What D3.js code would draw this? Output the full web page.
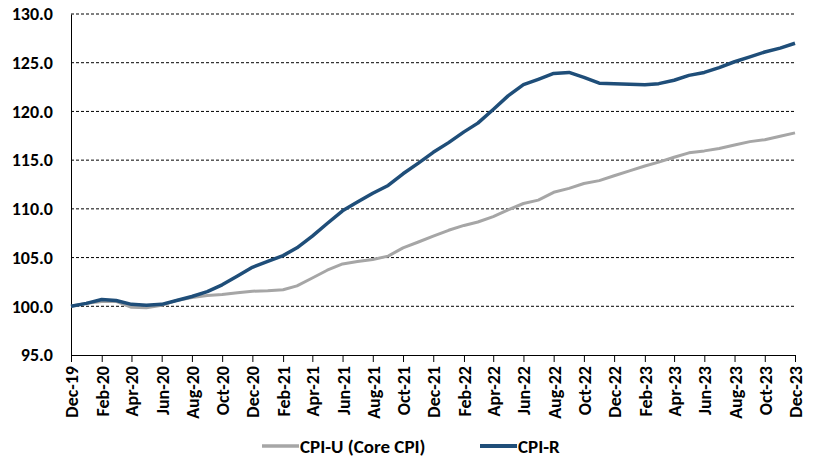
<!DOCTYPE html>
<html>
<head>
<meta charset="utf-8">
<script src="https://cdn.jsdelivr.net/npm/d3@7"></script>
<style>
  body { margin: 0; background: #fff; }
  svg text { font-family: Carlito, "Open Sans", sans-serif; font-weight: 700; fill: #000; }
</style>
</head>
<body>
<div id="chart"></div>
<script>
// monthly index, Dec-19 = 100
const months = d3.range(49).map(i => new Date(2019, 11 + i, 1));
const cpiU = [100.0, 100.3, 100.5, 100.5, 99.9, 99.85, 100.1, 100.6, 100.9, 101.1, 101.2, 101.4, 101.55,
  101.6, 101.7, 102.1, 102.9, 103.7, 104.35, 104.6, 104.8, 105.15, 106.0, 106.6, 107.2,
  107.8, 108.3, 108.65, 109.2, 109.9, 110.55, 110.9, 111.7, 112.1, 112.6, 112.9, 113.4,
  113.9, 114.4, 114.8, 115.3, 115.75, 115.95, 116.2, 116.55, 116.9, 117.1, 117.45, 117.8];
const cpiR = [100.0, 100.3, 100.7, 100.6, 100.2, 100.1, 100.2, 100.6, 101.0, 101.5, 102.2, 103.1, 104.0,
  104.6, 105.2, 106.0, 107.2, 108.5, 109.8, 110.7, 111.6, 112.4, 113.6, 114.7, 115.8,
  116.8, 117.9, 118.8, 120.2, 121.6, 122.75, 123.3, 123.9, 124.0, 123.5, 122.9, 122.85,
  122.8, 122.75, 122.85, 123.2, 123.7, 124.0, 124.5, 125.1, 125.6, 126.1, 126.5, 127.0];
const yTicks = [95, 100, 105, 110, 115, 120, 125, 130];
const SERIES = [
  { name: 'CPI-U (Core CPI)', values: cpiU, color: '#a6a6a6', width: 3 },
  { name: 'CPI-R', values: cpiR, color: '#1f4e79', width: 3.5 },
];

const W = 813, H = 457, m = { t: 14, r: 18, b: 102, l: 71 };
const x = d3.scaleTime().domain([months[0], months[48]]).range([m.l, W - m.r]);
const y = d3.scaleLinear().domain([95, 130]).range([H - m.b, m.t]);
const fmt = d3.timeFormat('%b-%y');
const svg = d3.select('#chart').append('svg').attr('width', W).attr('height', H);
const FS = 18;

// dashed gridlines
svg.append('g').selectAll('line').data(yTicks.slice(1)).join('line')
  .attr('x1', m.l).attr('x2', W - m.r).attr('y1', d => y(d)).attr('y2', d => y(d))
  .attr('stroke', '#000').attr('stroke-width', 1).attr('stroke-dasharray', '3 2');

// y axis
const ya = svg.append('g').attr('transform', `translate(${m.l},0)`)
  .call(d3.axisLeft(y).tickValues(yTicks).tickFormat(d3.format('.1f')).tickSize(0).tickPadding(18));
ya.attr('font-family', null).attr('font-size', null);
ya.select('.domain').attr('stroke', '#000');
ya.selectAll('text').attr('font-size', FS);

// x axis
const xa = svg.append('g').attr('transform', `translate(0,${H - m.b})`)
  .call(d3.axisBottom(x).tickValues(months.filter((d, i) => i % 2 === 0)).tickFormat(fmt).tickSize(7).tickSizeOuter(0));
xa.attr('font-family', null).attr('font-size', null);
xa.select('.domain').attr('stroke', '#000');
xa.selectAll('.tick line').attr('stroke', '#000');
xa.selectAll('text').attr('font-size', FS)
  .attr('transform', 'rotate(-90)').attr('text-anchor', 'end')
  .attr('x', -11).attr('y', 0).attr('dy', '0.36em');

// lines
const line = d3.line().x((d, i) => x(months[i])).y(d => y(d));
svg.append('g').selectAll('path').data(SERIES).join('path')
  .attr('d', s => line(s.values)).attr('fill', 'none')
  .attr('stroke', s => s.color).attr('stroke-width', s => s.width)
  .attr('stroke-linejoin', 'round');

// legend
const leg = svg.append('g').attr('transform', `translate(0,446)`);
const lx = [262, 480];
SERIES.forEach((s, i) => {
  leg.append('line').attr('x1', lx[i]).attr('x2', lx[i] + 37).attr('y1', 0).attr('y2', 0)
    .attr('stroke', s.color).attr('stroke-width', s.width + 0.5);
  leg.append('text').attr('x', lx[i] + 38).attr('y', 0).attr('dy', '0.36em')
    .attr('font-size', 19).text(s.name);
});
</script>
</body>
</html>
